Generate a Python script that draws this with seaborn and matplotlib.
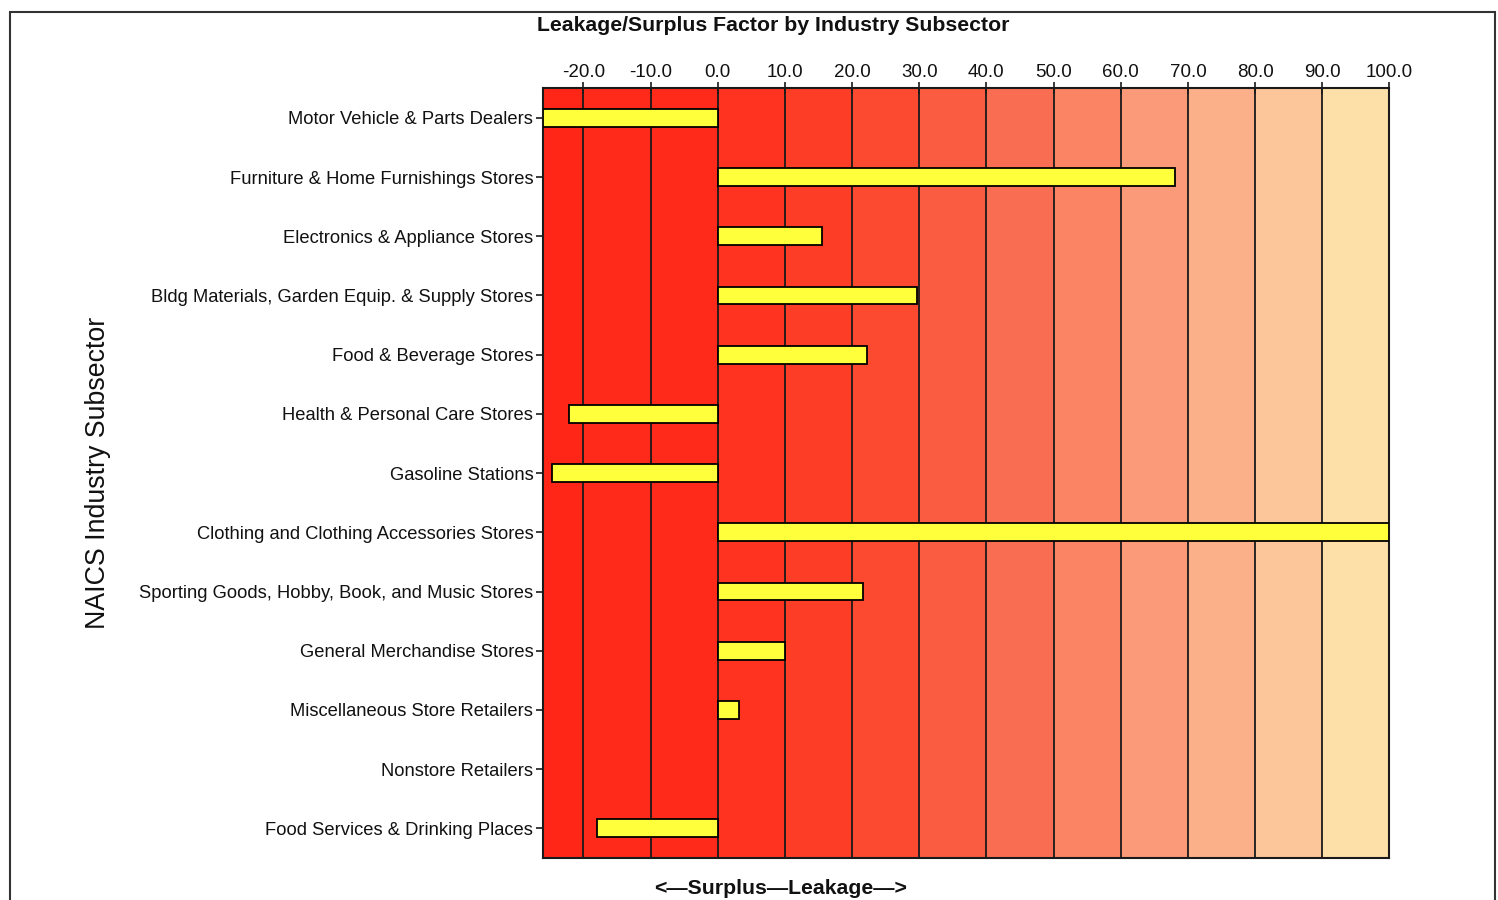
import matplotlib
matplotlib.use("Agg")
import matplotlib.pyplot as plt
import seaborn as sns
import numpy as np
import pandas as pd
from matplotlib.patches import Rectangle

categories = [
    "Motor Vehicle & Parts Dealers",
    "Furniture & Home Furnishings Stores",
    "Electronics & Appliance Stores",
    "Bldg Materials, Garden Equip. & Supply Stores",
    "Food & Beverage Stores",
    "Health & Personal Care Stores",
    "Gasoline Stations",
    "Clothing and Clothing Accessories Stores",
    "Sporting Goods, Hobby, Book, and Music Stores",
    "General Merchandise Stores",
    "Miscellaneous Store Retailers",
    "Nonstore Retailers",
    "Food Services & Drinking Places",
]
values = [-26.0, 68.1, 15.5, 29.6, 22.2, -22.1, -24.7, 100.0, 21.6, 10.0, 3.2, 0.0, -17.9]
tick_values = [-20, -10, 0, 10, 20, 30, 40, 50, 60, 70, 80, 90, 100]
band_colors = ["#ff2618", "#ff2a1a", "#ff2a1a", "#ff3320", "#fd3d26", "#fb4a30",
               "#f95c40", "#f96e52", "#fa8464", "#fb9a78", "#fcb08a", "#fdc69a", "#fde0a8"]
band_edges = [-26, -20, -10, 0, 10, 20, 30, 40, 50, 60, 70, 80, 90, 100]

df = pd.DataFrame({"category": categories, "value": values})

sns.set_theme(style="white")
plt.rcParams["font.family"] = ["Liberation Sans", "DejaVu Sans"]
plt.rcParams["text.color"] = "#111111"
plt.rcParams["axes.labelcolor"] = "#111111"
plt.rcParams["xtick.labelcolor"] = "#111111"
plt.rcParams["ytick.labelcolor"] = "#111111"

fig = plt.figure(figsize=(14.98, 9.0), dpi=100)
ax = fig.add_axes([0.3625, 0.0467, 0.9275 - 0.3625, 0.902 - 0.0467])

for i in range(len(band_edges) - 1):
    ax.axvspan(band_edges[i], band_edges[i + 1], color=band_colors[i], zorder=0, lw=0)

sns.barplot(data=df, x="value", y="category", orient="h", color="#ffff3c",
            edgecolor="black", linewidth=1.3, width=0.3, saturation=1, ax=ax, zorder=3)
for p in ax.patches:
    if hasattr(p, "get_width") and p.get_width() == 0:
        p.set_linewidth(0)

ax.set_xlim(-26, 100)
ax.set_ylim(12.5, -0.5)
ax.xaxis.tick_top()
ax.set_xticks(tick_values)
ax.set_xticklabels([f"{v:.1f}" for v in tick_values], fontsize=13.5)
ax.grid(axis="x", color="#1a1a1a", lw=1.3, zorder=1)
ax.set_axisbelow(False)
for gl in ax.get_xgridlines():
    gl.set_zorder(1)
ax.tick_params(axis="x", which="both", top=True, bottom=False, direction="inout",
               length=8, width=1.2, color="#1a1a1a", pad=1)
ax.tick_params(axis="y", left=True, direction="out", length=5, width=1.2,
               color="#1a1a1a", labelsize=13.2, pad=2)
for s in ax.spines.values():
    s.set_color("#1a1a1a")
    s.set_linewidth(1.5)

ax.set_ylabel("NAICS Industry Subsector", fontsize=19.3, labelpad=20)
ax.set_xlabel("")
fig.text(0.516, 0.972, "Leakage/Surplus Factor by Industry Subsector",
         ha="center", va="center", fontsize=15.3, fontweight="bold")
fig.text(0.521, 0.013, "<\u2014Surplus\u2014Leakage\u2014>",
         ha="center", va="center", fontsize=15.3, fontweight="bold")

fig.add_artist(Rectangle((0.0067, -0.02), 0.991, 1.007, transform=fig.transFigure,
                         fill=False, edgecolor="#333333", lw=1.5))

fig.savefig("out.png", dpi=100)
